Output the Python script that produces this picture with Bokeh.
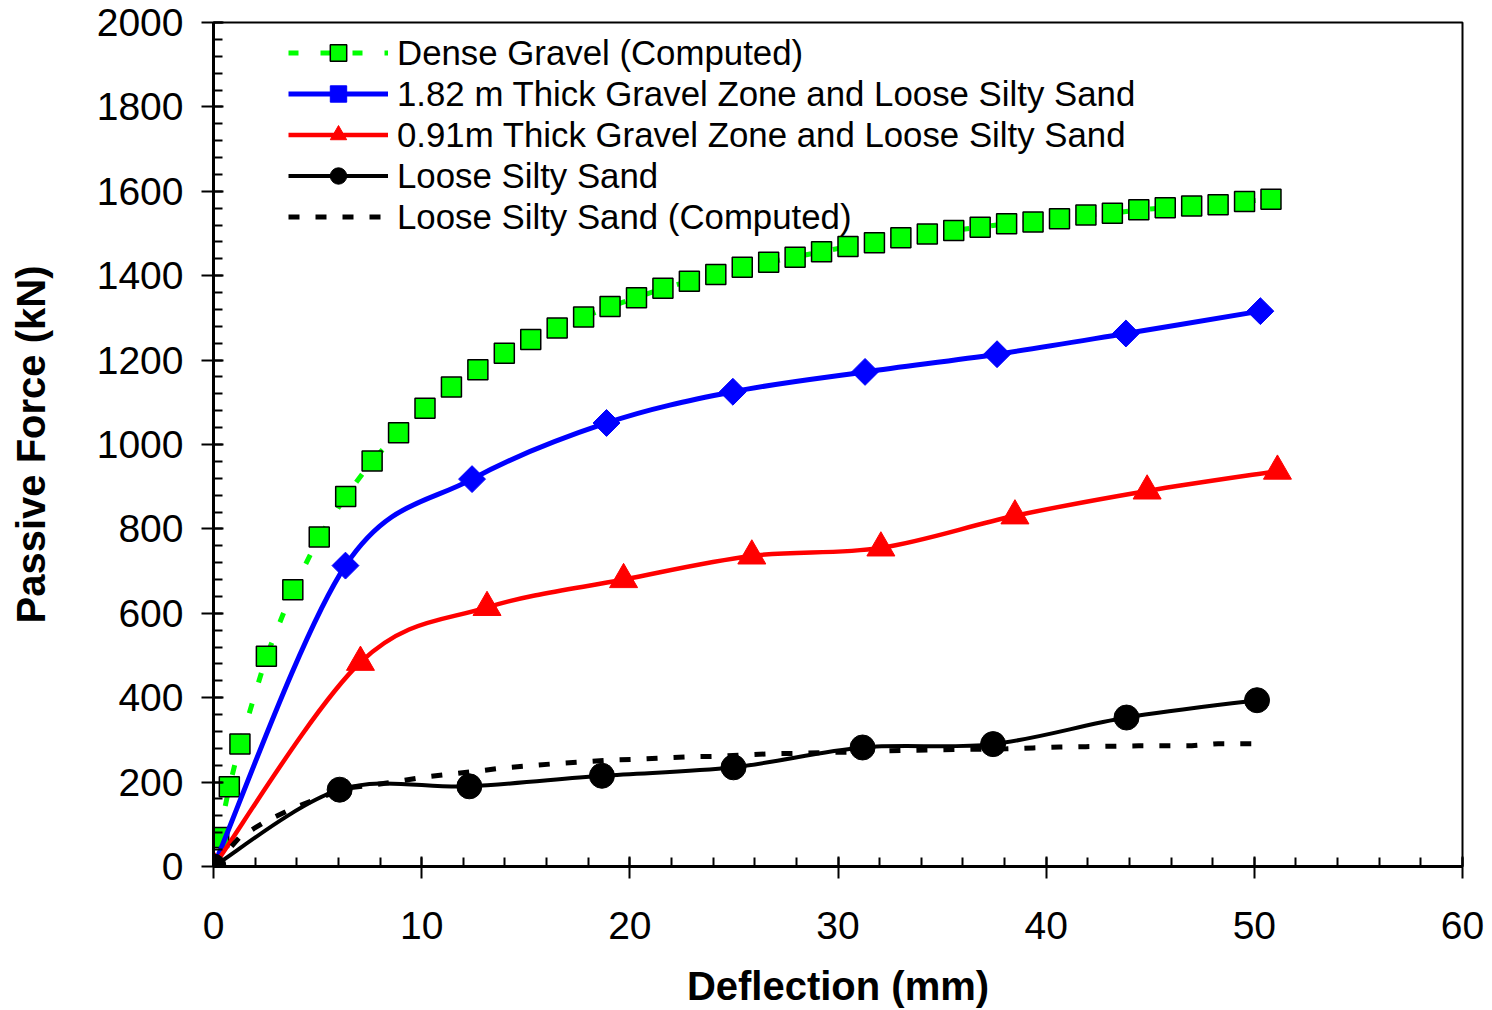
import numpy as np
from bokeh.plotting import figure
from bokeh.models import Range1d, FixedTicker, Legend, LegendItem, ColumnDataSource
from bokeh.embed import file_html
from bokeh.resources import INLINE

# ---------------- data ----------------
dense_x = [0.25, 0.76, 1.27, 2.54, 3.81, 5.08, 6.35, 7.62, 8.89, 10.16, 11.43, 12.70,
           13.97, 15.24, 16.51, 17.78, 19.05, 20.32, 21.59, 22.86, 24.13, 25.40, 26.67,
           27.94, 29.21, 30.48, 31.75, 33.02, 34.29, 35.56, 36.83, 38.10, 39.37, 40.64,
           41.91, 43.18, 44.45, 45.72, 46.99, 48.26, 49.53, 50.80]
dense_y = [69, 189, 290, 498, 656, 781, 877, 961, 1028, 1086, 1136, 1177, 1216, 1249,
           1276, 1302, 1327, 1348, 1370, 1387, 1403, 1420, 1432, 1444, 1457, 1469, 1478,
           1490, 1499, 1507, 1515, 1523, 1527, 1535, 1544, 1548, 1556, 1561, 1565, 1568,
           1576, 1581]

thick182_x = [0, 6.34, 12.42, 18.88, 24.95, 31.30, 37.64, 43.83, 50.29]
thick182_y = [0, 713, 918, 1051, 1125, 1172, 1214, 1263, 1316]

thick091_x = [0, 7.06, 13.14, 19.70, 25.86, 32.06, 38.50, 44.85, 51.11]
thick091_y = [0, 484, 614, 680, 736, 755, 831, 890, 937]

loose_x = [0, 6.06, 12.29, 18.66, 24.98, 31.18, 37.45, 43.86, 50.13]
loose_y = [0, 182, 190, 215, 235, 282, 290, 353, 394]

loose_comp_x = [0, 1.27, 2.54, 3.81, 5.08, 6.35, 7.62, 8.89, 10.16, 11.43, 12.70, 13.97,
                15.24, 16.51, 17.78, 19.05, 20.32, 21.59, 22.86, 24.13, 25.40, 26.67, 27.94,
                29.21, 30.48, 31.75, 33.02, 34.29, 35.56, 36.83, 38.10, 39.37, 40.64, 41.91,
                43.18, 44.45, 45.72, 46.99, 48.26, 49.53, 50.0]
loose_comp_y = [0, 70, 108, 138, 162, 186, 193, 202, 212, 219, 226, 234, 239, 244, 248,
                252, 254, 257, 260, 261, 264, 267, 268, 270, 271, 273, 275, 276, 277, 278,
                279, 281, 283, 284, 285, 286, 286, 286, 291, 291, 291]

labels = ["Dense Gravel (Computed)",
          "1.82 m Thick Gravel Zone and Loose Silty Sand",
          "0.91m Thick Gravel Zone and Loose Silty Sand",
          "Loose Silty Sand",
          "Loose Silty Sand (Computed)"]

x_ticks = [0, 10, 20, 30, 40, 50, 60]
y_ticks = [0, 200, 400, 600, 800, 1000, 1200, 1400, 1600, 1800, 2000]

FONT = "Liberation Sans"


def smooth_segments(xs, ys):
    """Excel-style smoothed line: cubic Bezier control points for each segment."""
    xs = np.asarray(xs, float)
    ys = np.asarray(ys, float)
    n = len(xs)
    d = dict(x0=[], y0=[], x1=[], y1=[], cx0=[], cy0=[], cx1=[], cy1=[])
    for i in range(n - 1):
        a = max(i - 1, 0)
        b = min(i + 2, n - 1)
        d["x0"].append(xs[i]); d["y0"].append(ys[i])
        d["x1"].append(xs[i + 1]); d["y1"].append(ys[i + 1])
        d["cx0"].append(xs[i] + (xs[i + 1] - xs[a]) / 6.0)
        d["cy0"].append(ys[i] + (ys[i + 1] - ys[a]) / 6.0)
        d["cx1"].append(xs[i + 1] - (xs[b] - xs[i]) / 6.0)
        d["cy1"].append(ys[i + 1] - (ys[b] - ys[i]) / 6.0)
    return ColumnDataSource(d)


p = figure(width=1492, height=1010, output_backend="svg", toolbar_location=None,
           x_range=Range1d(0, 60), y_range=Range1d(0, 2000),
           min_border_left=213, min_border_right=30, min_border_top=22,
           min_border_bottom=140)
p.grid.visible = False
p.outline_line_color = "black"
p.outline_line_width = 2
p.background_fill_color = "white"
p.border_fill_color = "white"

# axes
p.xaxis.ticker = FixedTicker(ticks=x_ticks, minor_ticks=list(range(0, 61, 2)))
p.yaxis.ticker = FixedTicker(ticks=y_ticks, minor_ticks=list(range(0, 2001, 40)))
for ax in (p.xaxis, p.yaxis):
    ax.axis_line_width = 3
    ax.axis_line_color = "black"
    ax.major_tick_line_width = 2
    ax.minor_tick_line_width = 2
    ax.major_tick_line_color = "black"
    ax.minor_tick_line_color = "black"
    ax.major_tick_in = 10
    ax.major_tick_out = 12
    ax.minor_tick_in = 9
    ax.minor_tick_out = 0
    ax.major_label_text_font = FONT
    ax.major_label_text_font_size = "39px"
    ax.major_label_text_color = "black"
    ax.axis_label_text_font = FONT
    ax.axis_label_text_font_size = "40px"
    ax.axis_label_text_font_style = "bold"
    ax.axis_label_text_color = "black"
p.xaxis.axis_label = "Deflection (mm)"
p.yaxis.axis_label = "Passive Force (kN)"
p.xaxis.major_label_standoff = 33
p.yaxis.major_label_standoff = 18
p.xaxis.axis_label_standoff = 22
p.yaxis.axis_label_standoff = 41

# series
g_line = p.line(dense_x, dense_y, line_color="#00ff00", line_width=5, line_dash="10 22")
g_pts = p.scatter(dense_x, dense_y, marker="square", size=20, fill_color="#00ff00",
                  line_color="black", line_width=1.5)

b_line = p.bezier(x0="x0", y0="y0", x1="x1", y1="y1", cx0="cx0", cy0="cy0",
                  cx1="cx1", cy1="cy1", source=smooth_segments(thick182_x, thick182_y),
                  line_color="#0000ff", line_width=5)
b_pts = p.scatter(thick182_x, thick182_y, marker="square", angle=np.pi / 4, size=19,
                  fill_color="#0000ff", line_color="#0000ff", line_width=1)

r_line = p.bezier(x0="x0", y0="y0", x1="x1", y1="y1", cx0="cx0", cy0="cy0",
                  cx1="cx1", cy1="cy1", source=smooth_segments(thick091_x, thick091_y),
                  line_color="#ff0000", line_width=4.5)
r_pts = p.scatter(thick091_x, thick091_y, marker="triangle", size=28,
                  fill_color="#ff0000", line_color="#ff0000", line_width=1)

k_line = p.bezier(x0="x0", y0="y0", x1="x1", y1="y1", cx0="cx0", cy0="cy0",
                  cx1="cx1", cy1="cy1", source=smooth_segments(loose_x, loose_y),
                  line_color="black", line_width=4)
k_pts = p.scatter(loose_x, loose_y, marker="circle", size=25,
                  fill_color="black", line_color="black", line_width=1)

kc_line = p.line(loose_comp_x, loose_comp_y, line_color="black", line_width=5,
                 line_dash="11 16")

legend = Legend(items=[
    LegendItem(label=labels[0], renderers=[g_line, g_pts]),
    LegendItem(label=labels[1], renderers=[b_line, b_pts]),
    LegendItem(label=labels[2], renderers=[r_line, r_pts]),
    LegendItem(label=labels[3], renderers=[k_line, k_pts]),
    LegendItem(label=labels[4], renderers=[kc_line]),
], location=(75, 629))
legend.padding = 0
legend.margin = 0
legend.spacing = 0
legend.glyph_width = 100
legend.glyph_height = 41
legend.label_height = 41
legend.label_standoff = 9
legend.label_text_font = FONT
legend.label_text_font_size = "34.8px"
legend.label_text_color = "black"
legend.border_line_alpha = 0
legend.background_fill_alpha = 0
p.add_layout(legend, "center")

open("out.html", "w").write(file_html(p, INLINE))
